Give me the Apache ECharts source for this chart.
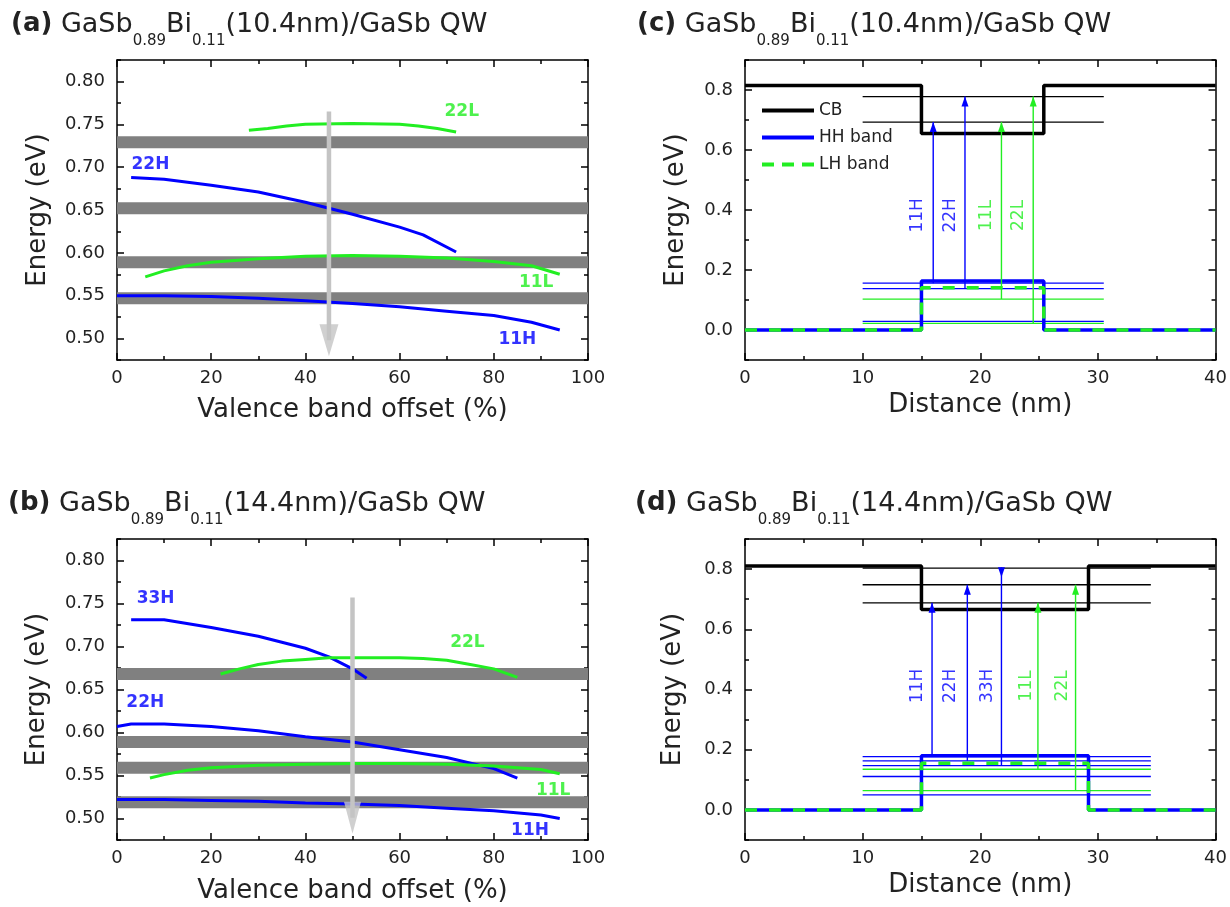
<!DOCTYPE html>
<html><head><meta charset="utf-8">
<script src="https://cdn.jsdelivr.net/npm/echarts@6/dist/echarts.min.js"></script>
<style>html,body{margin:0;padding:0;background:#fff}#c{width:1230px;height:907px}</style>
</head><body><div id="c"></div>
<script>
// ---------- tick labels ----------
const vboTicks = [0, 20, 40, 60, 80, 100];
const energyMajorAB = [0.50, 0.55, 0.60, 0.65, 0.70, 0.75, 0.80];
const energyMinorAB = [0.475, 0.525, 0.575, 0.625, 0.675, 0.725, 0.775, 0.825];
const distTicks = [0, 10, 20, 30, 40];
const energyMajorCD = [0.0, 0.2, 0.4, 0.6, 0.8];
const energyMinorCD = [-0.1, 0.1, 0.3, 0.5, 0.7, 0.9];

// ---------- panel (a): 10.4 nm, energy vs valence band offset ----------
const aBands = [0.729, 0.652, 0.589, 0.547];
const a22L = [[28,0.743],[32,0.745],[36,0.748],[40,0.750],[50,0.751],[60,0.750],[64,0.748],[68,0.745],[72,0.741]];
const a22H = [[3,0.688],[10,0.686],[20,0.679],[30,0.671],[40,0.659],[45,0.652],[50,0.645],[60,0.630],[65,0.621],[72,0.601]];
const a11L = [[6,0.572],[10,0.579],[15,0.585],[20,0.589],[30,0.593],[40,0.596],[50,0.597],[60,0.596],[70,0.594],[80,0.590],[88,0.585],[94,0.575]];
const a11H = [[0,0.550],[10,0.550],[20,0.549],[30,0.547],[40,0.544],[50,0.541],[60,0.537],[70,0.532],[80,0.527],[88,0.519],[94,0.510]];
const aArrow = [[45,0.765],[45,0.498]];
const aLabelText = ['22L','22H','11L','11H'];
const aLabelX = [73.2, 7.1, 89.0, 85.0];
const aLabelY = [0.765, 0.703, 0.565, 0.499];

// ---------- panel (b): 14.4 nm ----------
const bBands = [0.668, 0.589, 0.559, 0.519];
const b33H = [[3,0.731],[10,0.731],[20,0.722],[30,0.712],[40,0.698],[45,0.688],[50,0.674],[53,0.663]];
const b22L = [[22,0.668],[26,0.674],[30,0.679],[35,0.683],[40,0.685],[45,0.687],[50,0.687],[60,0.687],[65,0.686],[70,0.684],[75,0.679],[80,0.674],[85,0.664]];
const b22H = [[0,0.607],[3,0.610],[10,0.610],[20,0.607],[30,0.602],[40,0.595],[50,0.589],[60,0.580],[70,0.571],[80,0.558],[85,0.547]];
const b11L = [[7,0.547],[10,0.551],[15,0.556],[20,0.559],[30,0.562],[40,0.563],[50,0.564],[60,0.564],[70,0.563],[80,0.561],[90,0.557],[94,0.552]];
const b11H = [[0,0.522],[10,0.522],[20,0.521],[30,0.520],[40,0.518],[50,0.517],[60,0.515],[70,0.512],[80,0.509],[90,0.504],[94,0.500]];
const bArrow = [[50,0.757],[50,0.501]];
const bLabelText = ['33H','22L','22H','11L','11H'];
const bLabelX = [8.2, 74.4, 6.0, 92.6, 87.7];
const bLabelY = [0.756, 0.704, 0.635, 0.533, 0.486];

// ---------- panel (c): band profile 10.4 nm ----------
const cCB = [[0,0.815],[15.0,0.815],[15.0,0.655],[25.4,0.655],[25.4,0.815],[40,0.815]];
const cHH = [[0,0],[15.0,0],[15.0,0.163],[25.4,0.163],[25.4,0],[40,0]];
const cLH = [[0,0],[15.0,0],[15.0,0.141],[25.4,0.141],[25.4,0],[40,0]];
const cLevelSpan = [10, 30.5];
const cCBLevels = [0.778, 0.693];
const cHHLevels = [0.156, 0.138, 0.029];
const cLHLevels = [0.103, 0.022];
const cTransName = ['11H','22H','11L','22L'];
const cTransX = [16.0, 18.7, 21.8, 24.5];
const cTransFrom = [0.156, 0.138, 0.103, 0.022];
const cTransTo = [0.693, 0.778, 0.693, 0.778];
const cTransLabelX = [14.65, 17.5, 20.5, 23.25];
const cTransLabelY = 0.382;

// ---------- panel (d): band profile 14.4 nm ----------
const dCB = [[0,0.81],[15.0,0.81],[15.0,0.666],[29.2,0.666],[29.2,0.81],[40,0.81]];
const dHH = [[0,0],[15.0,0],[15.0,0.180],[29.2,0.180],[29.2,0],[40,0]];
const dLH = [[0,0],[15.0,0],[15.0,0.155],[29.2,0.155],[29.2,0],[40,0]];
const dLevelSpan = [10, 34.5];
const dCBLevels = [0.803, 0.748, 0.688];
const dHHLevels = [0.177, 0.163, 0.147, 0.111, 0.050];
const dLHLevels = [0.135, 0.064];
const dTransName = ['11H','22H','33H','11L','22L'];
const dTransX = [15.9, 18.9, 21.8, 24.9, 28.1];
const dTransFrom = [0.177, 0.163, 0.147, 0.135, 0.064];
const dTransTo = [0.688, 0.748, 0.806, 0.688, 0.748];
const dTransDown = [false, false, true, false, false];
const dTransLabelX = [14.65, 17.5, 20.6, 23.9, 27.0];
const dTransLabelY = 0.412;

// ---------- styling ----------
const FONT = 'DejaVu Sans';
const BLUE = '#0000ff', GREEN = '#22ee22', GRAY = '#808080', ARROW = '#c4c4c4', TXT = '#222';
const colorOf = t => t.endsWith('H') ? BLUE : GREEN;

const grids = [], xAxes = [], yAxes = [], series = [];
const axLine = {show: true, onZero: false, lineStyle: {color: '#000', width: 1.5}};
const tickLS = {color: '#000', width: 1.5};

function addPanel(g, xc, yc) {
  const gi = grids.length;
  grids.push(g);
  const xb = {gridIndex: gi, type: 'value', min: xc.min, max: xc.max, interval: xc.interval,
    splitLine: {show: false}, minorSplitLine: {show: false},
    axisTick: {show: true, inside: true, length: 7, lineStyle: tickLS},
    minorTick: {show: true, splitNumber: 2, length: 4, lineStyle: tickLS}, axisLine: axLine};
  xAxes.push(Object.assign({}, xb, {position: 'bottom',
    axisLabel: {show: true, fontSize: 18, fontFamily: FONT, color: TXT, margin: 9},
    name: xc.name, nameLocation: 'middle', nameGap: xc.gap,
    nameTextStyle: {fontSize: 26, fontFamily: FONT, color: TXT}}));
  xAxes.push(Object.assign({}, xb, {position: 'top', axisLabel: {show: false}}));
  const yb = {gridIndex: gi, type: 'value', min: yc.min, max: yc.max, splitLine: {show: false}};
  ['left', 'right'].forEach(pos => {
    yAxes.push(Object.assign({}, yb, {position: pos, axisLine: axLine,
      axisTick: {show: true, inside: true, length: 7, customValues: yc.major, lineStyle: tickLS},
      axisLabel: pos === 'left' ? {show: true, customValues: yc.major, formatter: v => Number(v).toFixed(yc.dec),
        fontSize: 18, fontFamily: FONT, color: TXT, margin: 12} : {show: false},
      name: pos === 'left' ? yc.name : '', nameLocation: 'middle', nameGap: yc.gap,
      nameTextStyle: {fontSize: 26, fontFamily: FONT, color: TXT}}));
    yAxes.push(Object.assign({}, yb, {position: pos, axisLine: {show: false, onZero: false},
      axisTick: {show: true, inside: true, length: 4, customValues: yc.minor, lineStyle: tickLS},
      axisLabel: {show: false}}));
  });
  return {x: 2 * gi, y: 4 * gi};
}

function lineS(ax, data, color, width, extra) {
  series.push(Object.assign({type: 'line', xAxisIndex: ax.x, yAxisIndex: ax.y, data: data,
    symbol: 'none', showSymbol: false, lineStyle: {color: color, width: width}, itemStyle: {color: color},
    silent: true, animation: false, z: 3}, extra || {}));
}
function labelS(ax, xs, ys, texts, rotate, bold) {
  series.push({type: 'scatter', xAxisIndex: ax.x, yAxisIndex: ax.y, symbolSize: 1,
    itemStyle: {color: 'rgba(0,0,0,0)'}, silent: true, animation: false, z: 10,
    data: texts.map((t, i) => ({value: [xs[i], Array.isArray(ys) ? ys[i] : ys], name: t,
      label: {color: colorOf(t)}})),
    label: {show: true, position: 'inside', formatter: '{b}', rotate: rotate, fontSize: 17,
      fontWeight: bold ? 'bold' : 'normal', fontFamily: FONT}});
}
function vboPanel(ax, bands, curves, arrow, lt, lx, ly, headSize) {
  bands.forEach(v => lineS(ax, [[vboTicks[0], v], [vboTicks[vboTicks.length - 1], v]], GRAY, 12, {z: 1}));
  curves.forEach(c => lineS(ax, c[0], c[1], 3));
  lineS(ax, arrow, ARROW, 4.5, {z: 5});
  series.push({type: 'scatter', xAxisIndex: ax.x, yAxisIndex: ax.y, data: [arrow[1]],
    symbol: 'triangle', symbolRotate: 180, symbolSize: headSize, itemStyle: {color: ARROW},
    silent: true, animation: false, z: 6});
  labelS(ax, lx, ly, lt, 0, true);
}
function bandPanel(ax, cb, hh, lh, span, cbL, hhL, lhL, tn, tx, tf, tt, down, lxs, ly) {
  cbL.forEach(v => lineS(ax, [[span[0], v], [span[1], v]], '#000', 1.3, {z: 2}));
  hhL.forEach(v => lineS(ax, [[span[0], v], [span[1], v]], BLUE, 1.3, {z: 2}));
  lhL.forEach(v => lineS(ax, [[span[0], v], [span[1], v]], GREEN, 1.3, {z: 2}));
  lineS(ax, cb, '#000', 3.5, {name: 'CB', z: 4});
  lineS(ax, hh, BLUE, 3.5, {name: 'HH band', z: 4});
  lineS(ax, lh, GREEN, 3.5, {name: 'LH band', z: 5, lineStyle: {color: GREEN, width: 3.5, type: [12, 12]}});
  tn.forEach((n, i) => {
    const c = colorOf(n);
    const dn = down && down[i];
    series.push({type: 'line', xAxisIndex: ax.x, yAxisIndex: ax.y, symbol: 'triangle', showSymbol: true,
      symbolSize: [7, 10], lineStyle: {color: c, width: 1.4}, itemStyle: {color: c},
      silent: true, animation: false, z: 6,
      data: [{value: [tx[i], tf[i]], symbol: 'none'},
             {value: [tx[i], tt[i]], symbolRotate: dn ? 180 : 0, symbolOffset: [0, '50%']}]});
  });
  labelS(ax, lxs, ly, tn, 90, false);
}

const axA = addPanel({left: 117, top: 60, width: 471, height: 300},
  {min: 0, max: 100, interval: 20, name: 'Valence band offset (%)', gap: 37},
  {min: 0.475, max: 0.825, major: energyMajorAB, minor: energyMinorAB, dec: 2, name: 'Energy (eV)', gap: 66});
const axB = addPanel({left: 117, top: 539, width: 471, height: 301},
  {min: 0, max: 100, interval: 20, name: 'Valence band offset (%)', gap: 38},
  {min: 0.475, max: 0.825, major: energyMajorAB, minor: energyMinorAB, dec: 2, name: 'Energy (eV)', gap: 67});
const axC = addPanel({left: 745, top: 60, width: 471, height: 300},
  {min: 0, max: 40, interval: 10, name: 'Distance (nm)', gap: 32},
  {min: -0.1, max: 0.9, major: energyMajorCD, minor: energyMinorCD, dec: 1, name: 'Energy (eV)', gap: 56});
const axD = addPanel({left: 745, top: 539, width: 471, height: 301},
  {min: 0, max: 40, interval: 10, name: 'Distance (nm)', gap: 32},
  {min: -0.1, max: 0.9, major: energyMajorCD, minor: energyMinorCD, dec: 1, name: 'Energy (eV)', gap: 59});

vboPanel(axA, aBands, [[a22L, GREEN], [a22H, BLUE], [a11L, GREEN], [a11H, BLUE]], aArrow,
  aLabelText, aLabelX, aLabelY, [19, 32]);
vboPanel(axB, bBands, [[b33H, BLUE], [b22L, GREEN], [b22H, BLUE], [b11L, GREEN], [b11H, BLUE]], bArrow,
  bLabelText, bLabelX, bLabelY, [17, 32]);
bandPanel(axC, cCB, cHH, cLH, cLevelSpan, cCBLevels, cHHLevels, cLHLevels,
  cTransName, cTransX, cTransFrom, cTransTo, null, cTransLabelX, cTransLabelY);
bandPanel(axD, dCB, dHH, dLH, dLevelSpan, dCBLevels, dHHLevels, dLHLevels,
  dTransName, dTransX, dTransFrom, dTransTo, dTransDown, dTransLabelX, dTransLabelY);

const panelTags = ['(a)', '(b)', '(c)', '(d)'];
const wellWidths = ['10.4nm', '14.4nm', '10.4nm', '14.4nm'];
const titlePos = [[11, 0], [8, 479], [637, 0], [635, 479]];
const titles = panelTags.map((t, i) => ({
  text: '{b|' + t + '} GaSb{s|0.89}Bi{s|0.11}(' + wellWidths[i] + ')/GaSb QW',
  left: titlePos[i][0], top: titlePos[i][1], padding: 0,
  textStyle: {fontSize: 27, fontFamily: FONT, fontWeight: 'normal', color: TXT, lineHeight: 49,
    rich: {b: {fontSize: 26, fontWeight: 'bold', fontFamily: FONT, color: TXT, lineHeight: 49},
           s: {fontSize: 15, fontFamily: FONT, color: TXT, lineHeight: 16, verticalAlign: 'bottom'}}}
}));

const chart = echarts.init(document.getElementById('c'), null, {renderer: 'canvas'});
chart.setOption({
  animation: false,
  backgroundColor: '#fff',
  title: titles,
  legend: {data: [
      {name: 'CB', icon: 'rect'},
      {name: 'HH band', icon: 'rect'},
      {name: 'LH band', icon: 'path://M0,0h12v4h-12z M20,0h12v4h-12z M40,0h12v4h-12z'}],
    left: 757, top: 97, orient: 'vertical',
    itemWidth: 52, itemHeight: 4, itemGap: 10, selectedMode: false,
    textStyle: {fontSize: 17, fontFamily: FONT, color: TXT}},
  grid: grids,
  xAxis: xAxes,
  yAxis: yAxes,
  series: series
});
</script>
</body></html>
